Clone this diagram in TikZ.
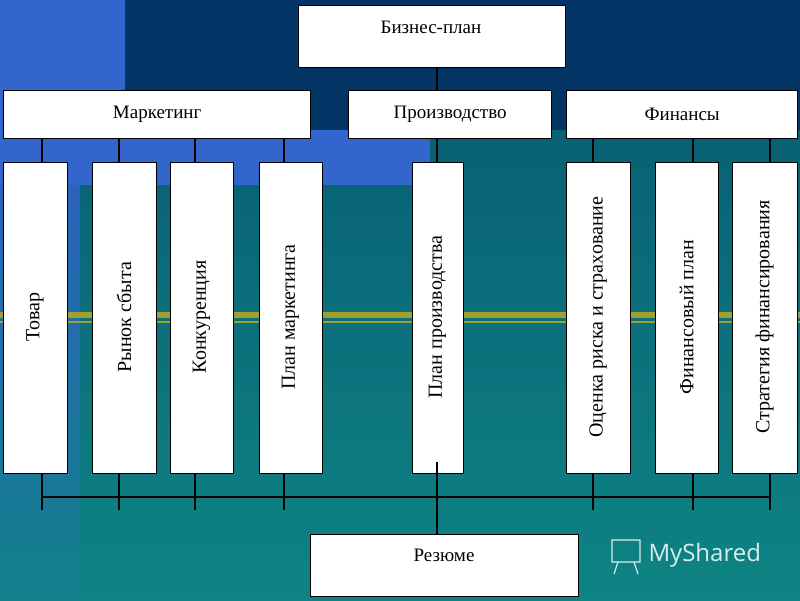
\documentclass[tikz,border=0pt]{standalone}
\usepackage{fontspec}
\setmainfont{Liberation Serif}
\setsansfont{Open Sans}
\begin{document}
\begin{tikzpicture}[x=1pt,y=-1pt,
  bx/.style={draw=black,fill=white,line width=1.3pt,inner sep=0pt,font=\fontsize{19}{21}\selectfont},
  tx/.style={font=\fontsize{19}{21}\selectfont},
  tv/.style={font=\fontsize{20}{22}\selectfont},
  ln/.style={draw=black,line width=1.3pt}]
\definecolor{navy}{HTML}{033466}
\definecolor{lblue}{HTML}{3366CC}
\definecolor{tealtop}{HTML}{075770}
\definecolor{tealbot}{HTML}{0E8484}
\definecolor{gold}{HTML}{A0A030}
\useasboundingbox (0,0) rectangle (800,600);
\shade[top color=tealtop,bottom color=tealbot] (0,0) rectangle (800,600);
\fill[navy] (0,0) rectangle (800,130);
\fill[lblue] (0,0) rectangle (125,185);
\fill[lblue] (0,130) rectangle (430,185);
\shade[top color=lblue!80!tealtop,bottom color=tealbot!90!lblue] (0,185) rectangle (80,600);
\fill[gold] (0,312) rectangle (800,318);
\fill[gold] (0,321) rectangle (800,323);
% nodes
\node[bx,minimum width=267,minimum height=62,anchor=north west] (bp) at (298,5) {};
\node[tx] at (431,27) {Бизнес-план};
\node[bx,minimum width=307,minimum height=48,anchor=north west] (mk) at (3,90) {Маркетинг};
\node[bx,minimum width=203,minimum height=48,anchor=north west] (pr) at (348,90) {Производство};
\node[bx,minimum width=231,minimum height=48,anchor=north west] (fi) at (566,90) {Финансы};
\foreach \n/\x/\w/\t in {a/3/64/Товар,b/92/64/Рынок сбыта,c/170/63/Конкуренция,d/259/63/План маркетинга,e/412/51/План производства,f/566/64/Оценка риска и страхование,g/655/63/Финансовый план,h/732/65/Стратегия финансирования}{
  \node[bx,minimum width=\w,minimum height=311,anchor=north west] (\n) at (\x,162) {};
  \node[rotate=90,tv,anchor=center] at (\x+\w/2,317) {\t};
}
\node[bx,minimum width=268,minimum height=62,anchor=north west] (rz) at (310,534) {};
\node[tx] at (444,555) {Резюме};
% connectors
\draw[ln] (bp.south -| 437,0) -- (pr.north -| 437,0);
\draw[ln] (pr.south -| 437,0) -- (e.north -| 437,0);
\foreach \n/\x in {a/42,b/119,c/195,d/284}{
  \draw[ln] (mk.south -| \x,0) -- (\n.north -| \x,0);
  \draw[ln] (\n.south -| \x,0) -- (\x,510);
}
\foreach \n/\x in {f/593,g/693,h/770}{
  \draw[ln] (fi.south -| \x,0) -- (\n.north -| \x,0);
  \draw[ln] (\n.south -| \x,0) -- (\x,510);
}
\draw[ln] (42,497) -- (770,497);
\draw[ln] (437,462) -- (rz.north -| 437,0);
\node[text=white!85!teal,font=\sffamily\fontsize{24}{26}\selectfont,anchor=west] (ms) at (645,555) {MyShared};
\draw[white!85!teal,line width=1.2pt] (612,540) rectangle (640,562) (618,562) -- (614,574) (634,562) -- (638,574);
\end{tikzpicture}
\end{document}
